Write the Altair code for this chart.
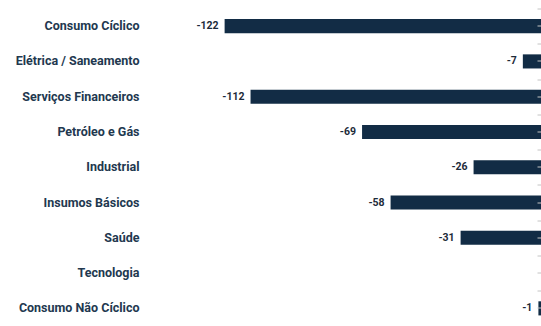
import altair as alt
import pandas as pd

categories = ["Consumo Cíclico", "Elétrica / Saneamento", "Serviços Financeiros",
              "Petróleo e Gás", "Industrial", "Insumos Básicos", "Saúde",
              "Tecnologia", "Consumo Não Cíclico"]
values = [-122, -7, -112, -69, -26, -58, -31, 0, -1]
labels = [str(v) if v != 0 else "" for v in values]

df = pd.DataFrame({"setor": categories, "valor": values, "rotulo": labels})

yscale = alt.Scale(paddingInner=0, paddingOuter=0)
xenc = alt.X("valor:Q", scale=alt.Scale(domain=[-150, 0]), axis=None)


def tick_axis(band):
    return alt.Axis(title=None, orient="right", offset=-4, labels=False,
                    domain=False, ticks=True, tickBand=band,
                    tickColor="#c4c4c4", tickSize=4, tickWidth=1, zindex=1)


bars = alt.Chart(df).mark_bar(color="#122c45", height={"band": 0.4}).encode(
    x=xenc,
    y=alt.Y("setor:N", sort=categories, scale=yscale,
            axis=alt.Axis(title=None, orient="left", ticks=False, tickSize=0,
                          domain=False, labelPadding=13, labelFont="Roboto",
                          labelFontSize=12.5, labelFontWeight="bold",
                          labelColor="#22384f", labelLimit=250)),
)

text = alt.Chart(df).mark_text(
    align="right", baseline="middle", dx=-6, fontSize=10.5, fontWeight="bold",
    font="Roboto", color="#1d2b3a"
).encode(
    x=xenc,
    y=alt.Y("setor:N", sort=categories, scale=yscale, axis=tick_axis("extent")),
    text="rotulo:N",
)

centre_ticks = alt.Chart(df).mark_point(opacity=0).encode(
    x=xenc,
    y=alt.Y("setor:N", sort=categories, scale=yscale, axis=tick_axis("center")),
)

chart = alt.layer(bars, text, centre_ticks).resolve_axis(y="independent").properties(
    width=389, height=317.5,
    autosize=alt.AutoSizeParams(type="none"),
    padding={"left": 152, "top": 8.5, "right": 0, "bottom": 0},
    background="white",
).configure_view(stroke=None)

chart.save("out.html", embed_options={"renderer": "svg", "actions": False})
